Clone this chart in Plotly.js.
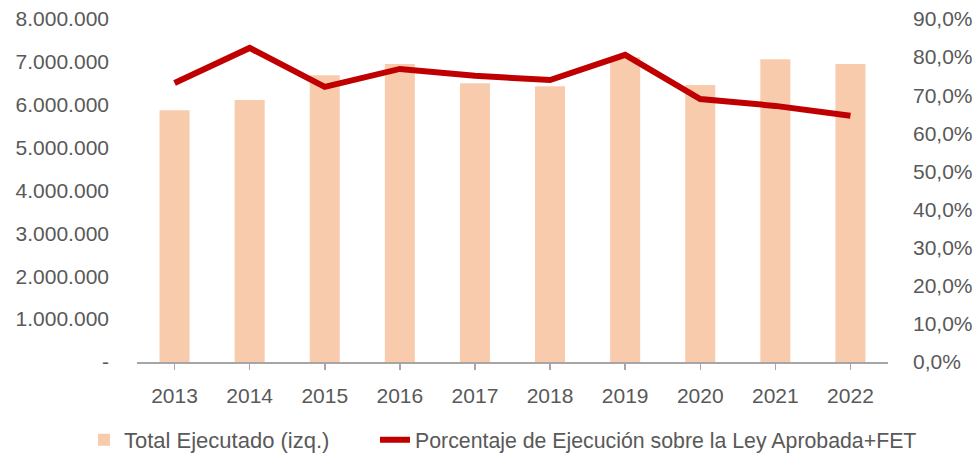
<!DOCTYPE html>
<html>
<head>
<meta charset="utf-8">
<script src="https://cdn.plot.ly/plotly-3.0.1.min.js"></script>
<style>html,body{margin:0;padding:0;background:#fff;}#chart{width:975px;height:458px;}</style>
</head>
<body>
<div id="chart"></div>
<script>
const years = ['2013','2014','2015','2016','2017','2018','2019','2020','2021','2022'];
const totalEjecutado = [5870000, 6110000, 6690000, 6950000, 6500000, 6430000, 7110000, 6460000, 7060000, 6950000];
const porcentajeEjecucion = [0.732, 0.824, 0.722, 0.769, 0.751, 0.740, 0.806, 0.690, 0.672, 0.646];
const leftTickVals = [0, 1000000, 2000000, 3000000, 4000000, 5000000, 6000000, 7000000, 8000000];
const leftTickText = ['-', '1.000.000', '2.000.000', '3.000.000', '4.000.000', '5.000.000', '6.000.000', '7.000.000', '8.000.000'];
const rightTickVals = [0, 0.1, 0.2, 0.3, 0.4, 0.5, 0.6, 0.7, 0.8, 0.9];
const rightTickText = ['0,0%', '10,0%', '20,0%', '30,0%', '40,0%', '50,0%', '60,0%', '70,0%', '80,0%', '90,0%'];
const seriesNames = ['Total Ejecutado (izq.)', 'Porcentaje de Ejecución sobre la Ley Aprobada+FET'];

const font = {family: 'Liberation Sans, Arial, sans-serif', size: 21, color: '#595959'};
const legendFont = {family: 'Liberation Sans, Arial, sans-serif', size: 22, color: '#595959'};
const legendFont2 = {family: 'Liberation Sans, Arial, sans-serif', size: 21.3, color: '#595959'};

const traces = [
  {
    type: 'bar', x: years, y: totalEjecutado, name: seriesNames[0],
    marker: {color: '#F8CBAD'}, width: 0.4, yaxis: 'y', hoverinfo: 'skip',
    legend: 'legend'
  },
  {
    type: 'scatter', mode: 'lines', x: years, y: porcentajeEjecucion, name: seriesNames[1],
    line: {color: '#C00000', width: 6}, yaxis: 'y2', hoverinfo: 'skip',
    legend: 'legend2'
  }
];

const layout = {
  width: 975, height: 458,
  margin: {l: 137, r: 87, t: 19, b: 96, autoexpand: false},
  paper_bgcolor: '#fff', plot_bgcolor: '#fff',
  font: font,
  showlegend: true,
  bargap: 0.6,
  xaxis: {
    type: 'category', showgrid: false, zeroline: false,
    showline: true, linecolor: '#A6A6A6', linewidth: 1.5,
    ticks: 'outside', ticklen: 6, tickcolor: '#A6A6A6', tickwidth: 1.5,
    ticklabelstandoff: 8,
    tickfont: font
  },
  yaxis: {
    range: [0, 8000000], tickvals: leftTickVals, ticktext: leftTickText,
    showgrid: false, zeroline: false, showline: false, ticks: '',
    ticklabelstandoff: 27, tickfont: font
  },
  yaxis2: {
    overlaying: 'y', side: 'right',
    range: [0, 0.9], tickvals: rightTickVals, ticktext: rightTickText,
    showgrid: false, zeroline: false, showline: false, ticks: '',
    ticklabelstandoff: 24, tickfont: font
  },
  legend: {
    orientation: 'h', x: -0.0706, xanchor: 'left', y: -0.227, yanchor: 'middle',
    font: legendFont, bgcolor: 'rgba(0,0,0,0)'
  },
  legend2: {
    orientation: 'h', x: 0.3169, xanchor: 'left', y: -0.227, yanchor: 'middle',
    font: legendFont2, bgcolor: 'rgba(0,0,0,0)'
  }
};

Plotly.newPlot('chart', traces, layout, {staticPlot: true, displayModeBar: false});
</script>
</body>
</html>
